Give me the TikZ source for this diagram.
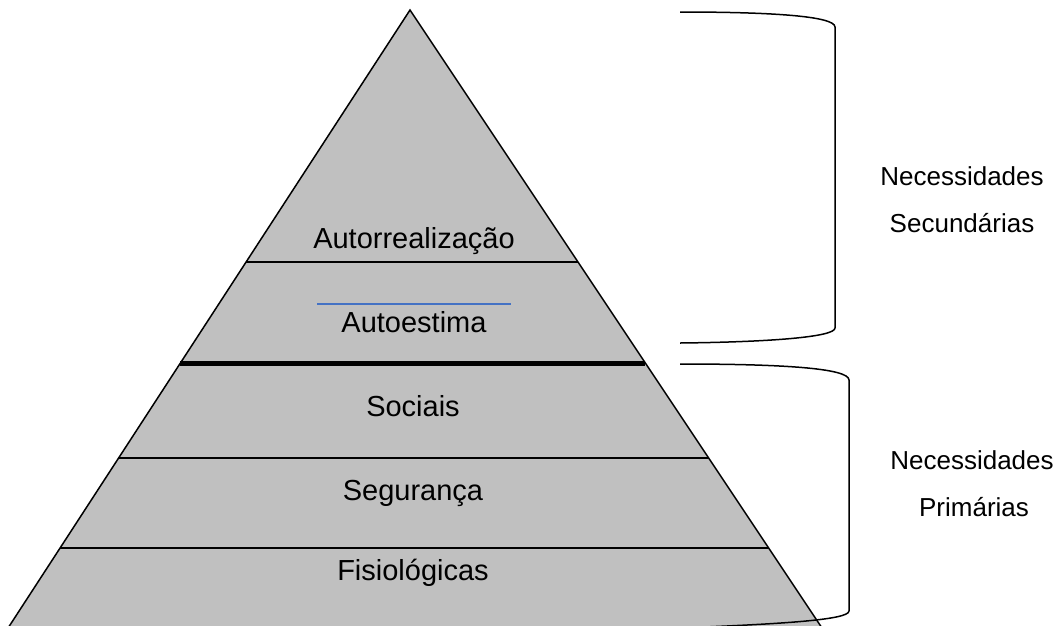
\documentclass[tikz,border=0pt]{standalone}
\usepackage{fontspec}
\setmainfont{Liberation Sans}
\usetikzlibrary{calc}
\definecolor{pyrgray}{RGB}{192,192,192}
\definecolor{pyrblue}{RGB}{68,114,196}
\tikzset{
  level/.style={anchor=base, font=\fontsize{29}{34}\selectfont, inner sep=0pt},
  side/.style={anchor=base, font=\fontsize{26}{31}\selectfont, inner sep=0pt},
  sep/.style={line width=1.4pt},
  bracket/.style={line width=1.5pt},
}
\begin{document}
\begin{tikzpicture}[x=1pt,y=-1pt]
\useasboundingbox (0,0) rectangle (1059,625);
\begin{scope}
\clip (0,0) rectangle (1059,625);
\coordinate (A) at (410,10);
\coordinate (L) at (10,625);
\coordinate (R) at (820,625);
\fill[pyrgray] (A) -- ($(A)!1.02!(L)$) -- ($(A)!1.02!(R)$) -- cycle;
\draw[line width=1.5pt] ($(A)!1.02!(L)$) -- (A) -- ($(A)!1.02!(R)$);
\draw[sep] ($(A)!0.4098!(L)$) -- ($(A)!0.4098!(R)$);
\draw[line width=5pt] ($(A)!0.5740!(L)$) -- ($(A)!0.5740!(R)$);
\draw[sep] ($(A)!0.7285!(L)$) -- ($(A)!0.7285!(R)$);
\draw[sep] ($(A)!0.8748!(L)$) -- ($(A)!0.8748!(R)$);
\coordinate (b1) at (317,304);
\coordinate (b2) at (511,304);
\draw[pyrblue, line width=1.4pt] (b1) -- (b2);
% brackets
\draw[bracket] (680,12) .. controls (770,12) and (835,16) .. (835,27)
  -- (835,328) .. controls (835,337) and (770,342) .. (680,343);
\draw[bracket] (680,364) .. controls (780,364) and (849,368) .. (849,380)
  -- (849,611) .. controls (849,620) and (780,624) .. (680,628);
\end{scope}
\node[level] (t1) at (414,248) {Autorrealização};
\node[level] (t2) at (414,332) {Autoestima};
\node[level] (t3) at (413,416) {Sociais};
\node[level] (t4) at (413,500) {Segurança};
\node[level] (t5) at (413,580) {Fisiológicas};
\node[side] (s1) at (962,185) {Necessidades};
\node[side] (s2) at (962,232) {Secundárias};
\node[side] (p1) at (972,469) {Necessidades};
\node[side] (p2) at (974,516) {Primárias};
\end{tikzpicture}
\end{document}
